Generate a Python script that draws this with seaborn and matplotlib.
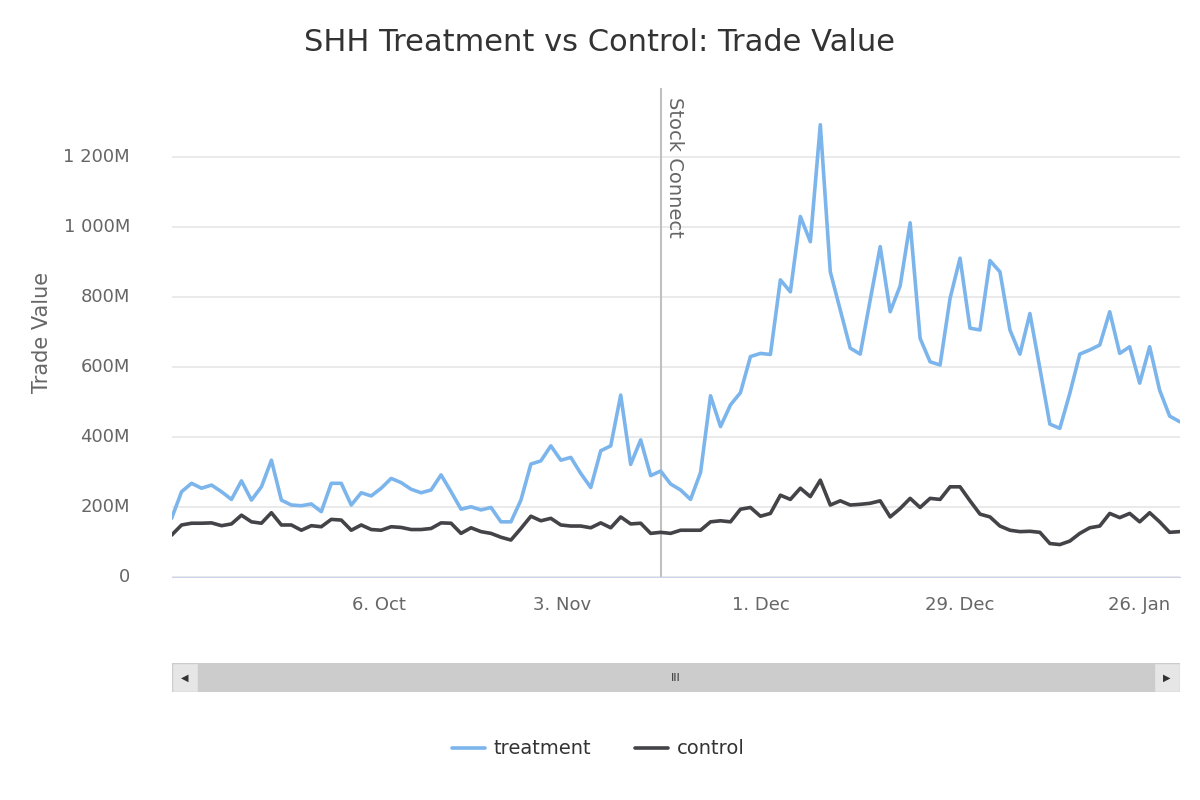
import numpy as np
import pandas as pd
import matplotlib
matplotlib.use("Agg")
import matplotlib.pyplot as plt
import seaborn as sns
from matplotlib.patches import Rectangle

# trade value in millions, one point per trading day (ordinal axis)
treatment = [167, 243, 267, 253, 262, 243, 221, 274, 219, 257, 333, 219, 205, 203, 208, 186,
             267, 267, 205, 240, 231, 253, 281, 269, 250, 240, 248, 291, 243, 193, 200, 191,
             198, 157, 157,
             219, 322, 331, 374, 333, 341, 295, 255, 360, 374, 519, 321, 391, 289, 302, 265,
             248, 221, 298, 517, 429, 491, 526, 629, 638, 635,
             848, 814, 1029, 957, 1291, 871, 762, 653, 636, 791, 943, 757, 831, 1011, 681, 614,
             605, 795, 910, 710, 705, 903, 871, 705, 636, 752, 595, 436, 424, 524, 636, 648,
             662, 757, 638, 657, 553, 657, 533, 459, 443]
control = [119, 148, 153, 153, 154, 146, 151, 176, 157, 153, 183, 148, 148, 133, 146, 143,
           164, 162, 133, 148, 135, 133, 143, 141, 135, 135, 138, 154, 153, 124, 140, 129,
           124, 113, 105,
           138, 173, 160, 167, 148, 145, 145, 140, 154, 140, 171, 151, 153, 124, 127, 124,
           133, 133, 133, 157, 160, 157, 193, 198, 173, 181,
           233, 221, 253, 229, 276, 205, 217, 205, 207, 210, 217, 171, 195, 224, 198, 224,
           221, 257, 257, 217, 179, 171, 145, 133, 129, 130, 127, 95, 92, 102, 124, 140,
           145, 181, 169, 181, 157, 183, 157, 127, 129]
tick_pos = [20.8, 39.1, 59.0, 79.0, 96.9]
tick_labels = ["6. Oct", "3. Nov", "1. Dec", "29. Dec", "26. Jan"]
y_ticks = [0, 200, 400, 600, 800, 1000, 1200]
y_labels = ["0", "200M", "400M", "600M", "800M", "1 000M", "1 200M"]
event_pos = 49.0
event_label = "Stock Connect"

df = pd.DataFrame({
    "day": list(range(len(treatment))) * 2,
    "value": treatment + control,
    "series": ["treatment"] * len(treatment) + ["control"] * len(control),
})

sns.set_style("white")
plt.rcParams['font.family'] = ['DejaVu Sans']
fig = plt.figure(figsize=(12, 8), dpi=100)
ax = fig.add_axes([0.143, 0.279, 0.84, 0.611])

sns.lineplot(data=df, x="day", y="value", hue="series",
             palette={"treatment": "#7cb5ec", "control": "#434348"},
             linewidth=2.6, ax=ax, legend=False)

ax.set_xlim(0, len(treatment) - 1)
ax.set_ylim(0, 1396)
ax.set_yticks(y_ticks)
ax.set_yticklabels(y_labels, color="#666666", fontsize=13, va="center")
ax.tick_params(axis="y", length=0, pad=30)
ax.set_xticks(tick_pos)
ax.set_xticklabels(tick_labels, color="#666666", fontsize=13)
ax.tick_params(axis="x", length=8, color="#ccd6eb", pad=6)
ax.grid(axis="y", color="#e6e6e6", linewidth=1.2)
ax.set_axisbelow(True)
for s in ["top", "right", "left"]:
    ax.spines[s].set_visible(False)
ax.spines["bottom"].set_color("#ccd6eb")
ax.set_xlabel("")
ax.set_ylabel("Trade Value", color="#666666", fontsize=15, labelpad=8)

ax.axvline(event_pos, color="#c0c0c0", linewidth=1.5, zorder=1)
ax.text(event_pos + 0.4, 1370, event_label, rotation=-90, va="top", ha="left",
        color="#666666", fontsize=14)

fig.suptitle("SHH Treatment vs Control: Trade Value", y=0.965, fontsize=22, color="#333333")

# scrollbar
sb = fig.add_axes([0.143, 0.135, 0.84, 0.036])
sb.set_xlim(0, 1008)
sb.set_ylim(0, 1)
sb.axis("off")
sb.add_patch(Rectangle((0, 0), 1008, 1, facecolor="#f2f2f2", edgecolor="#cccccc"))
sb.add_patch(Rectangle((26, 0), 956, 1, facecolor="#cccccc", edgecolor="#cccccc"))
sb.add_patch(Rectangle((0, 0), 26, 1, facecolor="#e6e6e6", edgecolor="#cccccc"))
sb.add_patch(Rectangle((982, 0), 26, 1, facecolor="#e6e6e6", edgecolor="#cccccc"))
sb.text(13, 0.5, "◀", ha="center", va="center", fontsize=7, color="#333333")
sb.text(995, 0.5, "▶", ha="center", va="center", fontsize=7, color="#333333")
sb.text(504, 0.5, "III", ha="center", va="center", fontsize=8, color="#333333")

# legend (axes spans pixels 0..1200)
lg = fig.add_axes([0.0, 0.045, 1.0, 0.04])
lg.axis("off")
lg.set_xlim(0, 1200)
lg.set_ylim(0, 1)
lg.plot([452, 485], [0.5, 0.5], color="#7cb5ec", linewidth=2.6)
lg.text(494, 0.5, "treatment", va="center", fontsize=14, color="#333333")
lg.plot([635, 668], [0.5, 0.5], color="#434348", linewidth=2.6)
lg.text(677, 0.5, "control", va="center", fontsize=14, color="#333333")

fig.savefig("out.png", facecolor="white")
